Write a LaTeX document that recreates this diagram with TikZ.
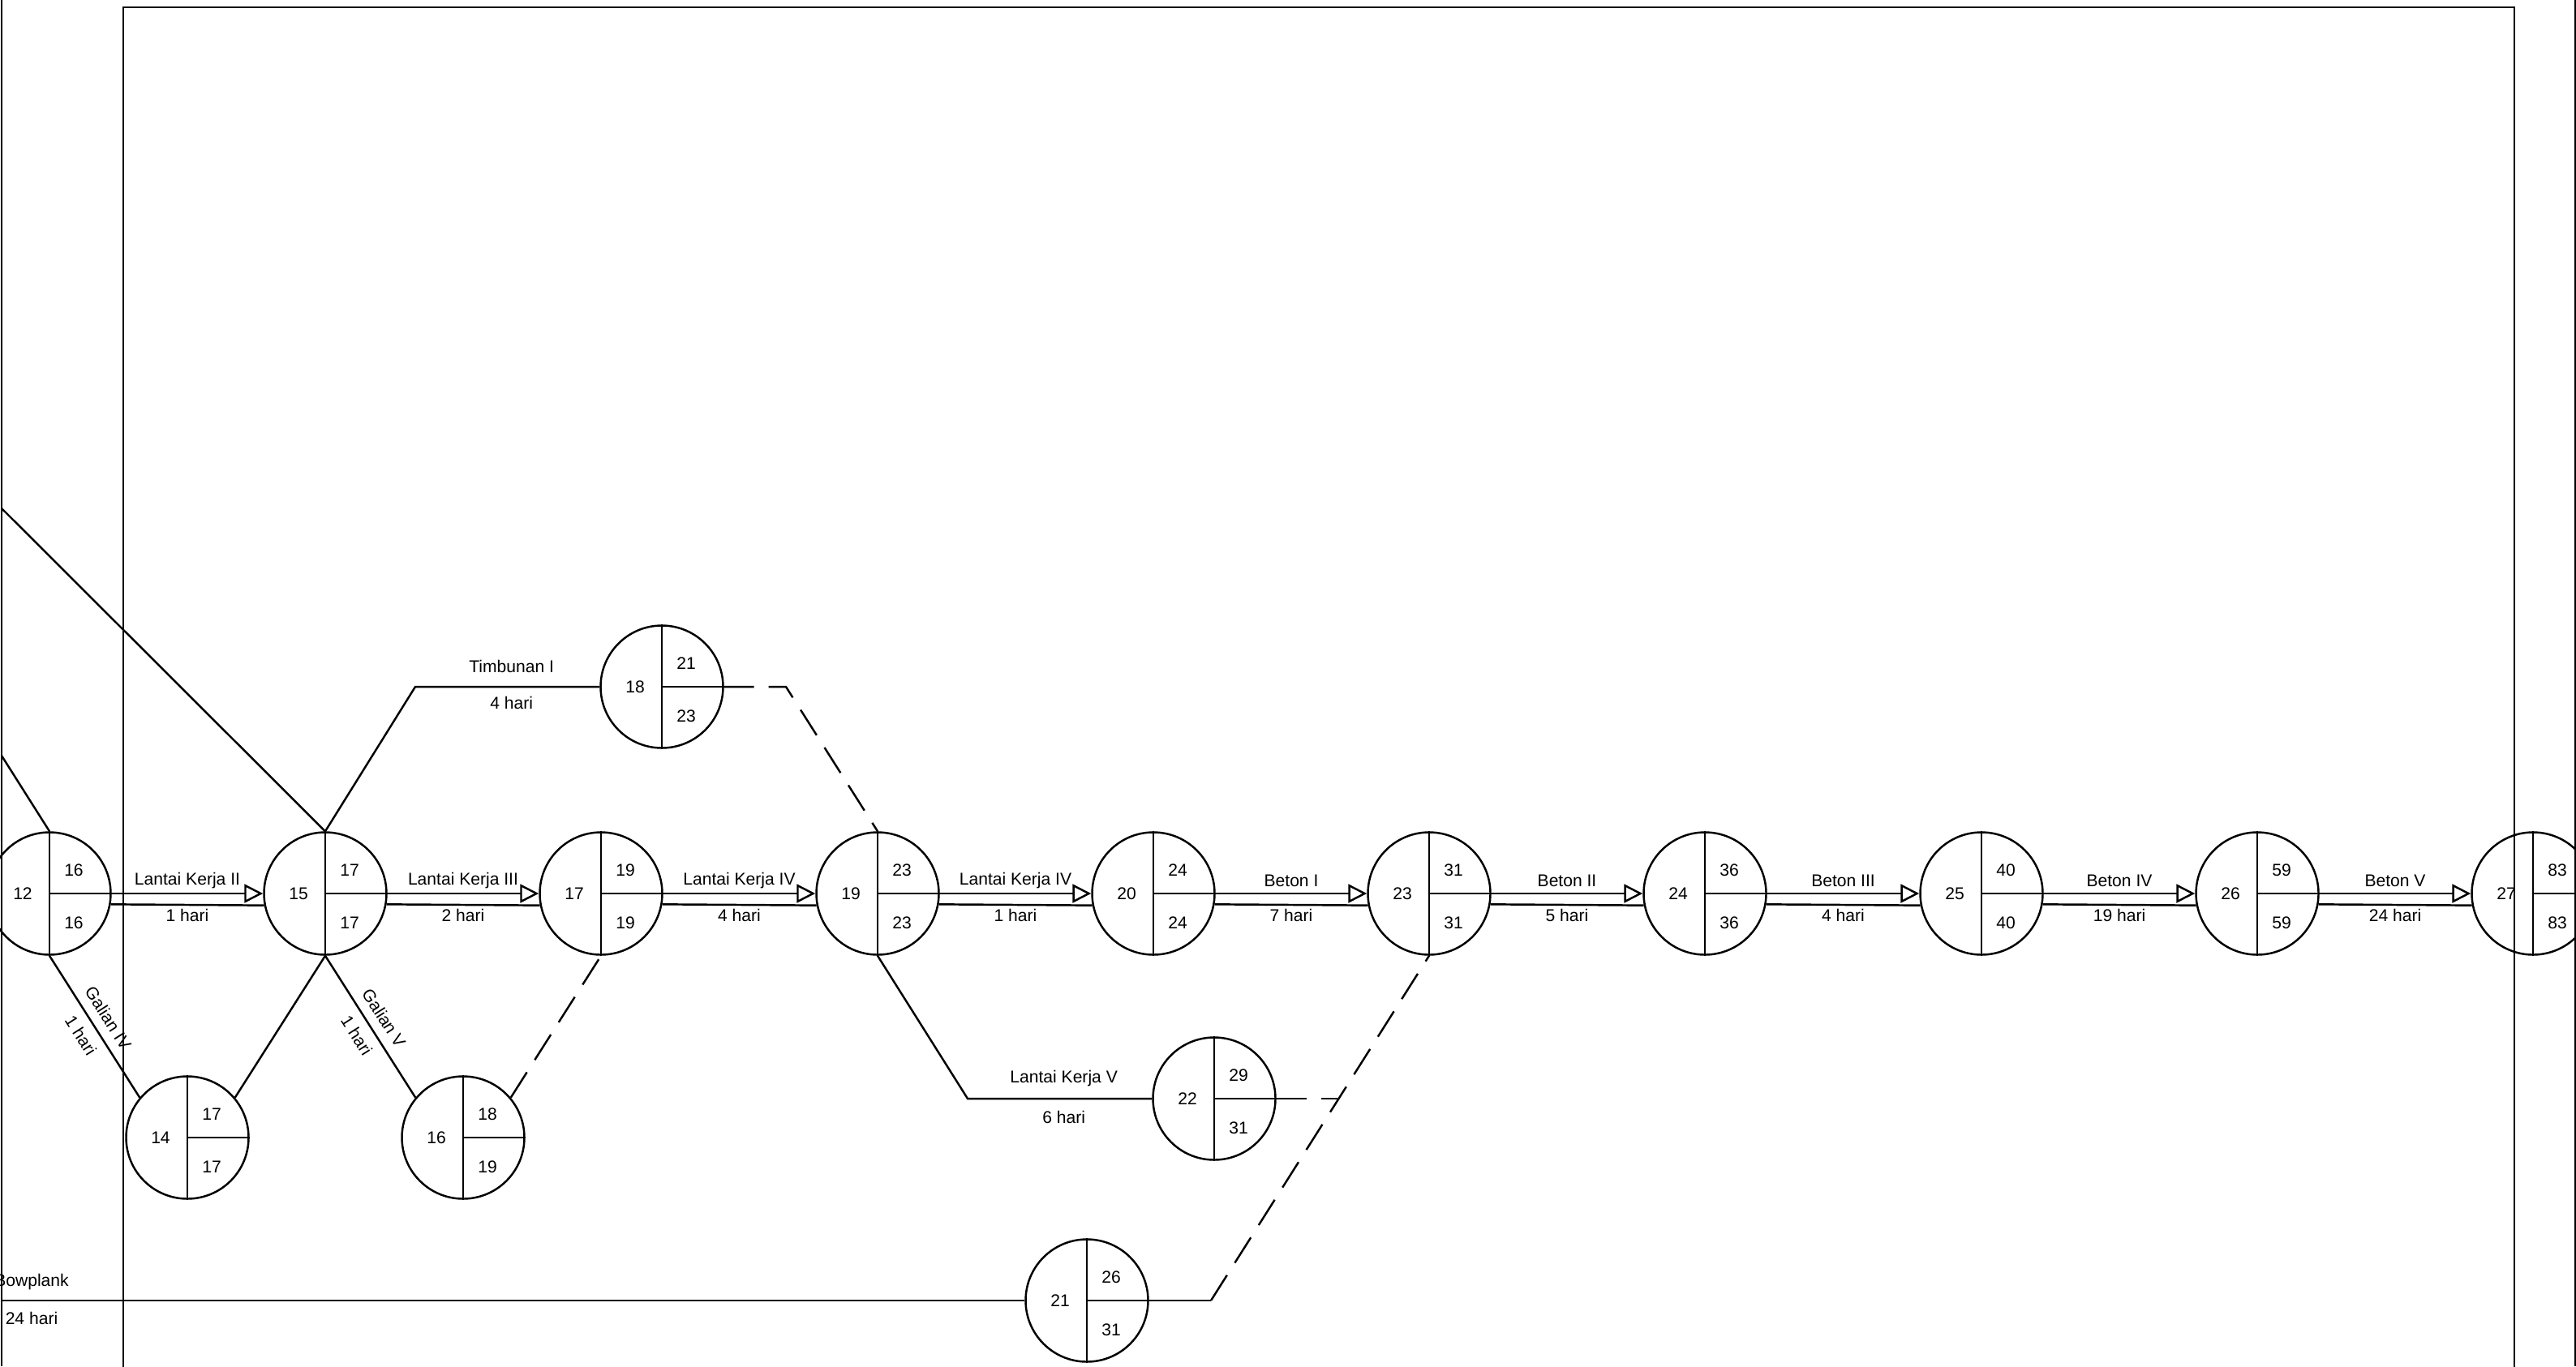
\documentclass[tikz,border=0pt]{standalone}
\usepackage{fontspec}
\setmainfont{Liberation Sans}
\usetikzlibrary{arrows.meta, calc, positioning}

% simpul: nama, posisi, nomor, atas, bawah
\newcommand{\simpul}[5]{%
    \node[simpulbox] (#1) at (#2) {};
    \draw[garis] (#1.north) -- (#1.south) (#1.center) -- (#1.east);
    \node[teks] (#1-n) at ($(#1.center)+(-0.33,0)$) {#3};
    \node[teks] (#1-a) at ($(#1.center)+(0.30,0.29)$) {#4};
    \node[teks] (#1-b) at ($(#1.center)+(0.30,-0.36)$) {#5};
}
% lintasan kritis: dari, ke, kegiatan, durasi
\newcommand{\kritis}[4]{%
    \draw[garis, -{Triangle[open, length=2.3mm, width=2.3mm]}] (#1.east) -- (#2.west);
    \draw[garis] (#1.-10.7) -- (#2.-169.3);
    \node[teks] (#1-#2-k) at ($(#1.east)!0.5!(#2.west)+(0,0.16)$) {#3};
    \node[teks] (#1-#2-d) at ($(#1.east)!0.5!(#2.west)+(0,-0.27)$) {#4};
}

\begin{document}
\begin{tikzpicture}
        [garis/.style={line width=0.7pt},
         putus/.style={garis, dash pattern=on 3.7mm off 1.8mm},
         simpulbox/.style={circle, draw, line width=0.7pt, minimum size=15.1mm, inner sep=0pt},
         teks/.style={font=\fontsize{6}{7}\selectfont, inner sep=0pt}]
        \useasboundingbox (0,0) rectangle (31.76,-16.85);
        %bingkai
            \draw[garis] (0.02,0) -- (0.02,-16.85);
            \draw[garis] (31.75,0) -- (31.75,-16.85);
            \draw[garis] (1.52,-17.2) -- (1.52,-0.09) -- (31.00,-0.09) -- (31.00,-17.2);
        %simpul baris utama
            \simpul{n12}{0.61,-11.02}{12}{16}{16}
            \simpul{n15}{4.01,-11.02}{15}{17}{17}
            \simpul{n17}{7.41,-11.02}{17}{19}{19}
            \simpul{n19}{10.82,-11.02}{19}{23}{23}
            \simpul{n20}{14.22,-11.02}{20}{24}{24}
            \simpul{n23}{17.62,-11.02}{23}{31}{31}
            \simpul{n24}{21.02,-11.02}{24}{36}{36}
            \simpul{n25}{24.43,-11.02}{25}{40}{40}
            \simpul{n26}{27.83,-11.02}{26}{59}{59}
            \simpul{n27}{31.23,-11.02}{27}{83}{83}
        %simpul lain
            \simpul{n14}{2.31,-14.03}{14}{17}{17}
            \simpul{n16}{5.71,-14.03}{16}{18}{19}
            \simpul{n18}{8.16,-8.47}{18}{21}{23}
            \simpul{n22}{14.97,-13.55}{22}{29}{31}
            \simpul{n21}{13.40,-16.04}{21}{26}{31}
        %titik bantu
            \coordinate (kiri1) at (0.02,-6.27);
            \coordinate (kiri2) at (0.02,-9.32);
            \coordinate (kiri3) at (0.02,-16.04);
            \coordinate (b15) at (5.12,-8.47);
            \coordinate (b18) at (9.69,-8.47);
            \coordinate (b19) at (11.93,-13.55);
            \coordinate (b22) at (16.49,-13.55);
            \coordinate (b21) at (14.93,-16.04);
        %lintasan kritis
            \kritis{n12}{n15}{Lantai Kerja II}{1 hari}
            \kritis{n15}{n17}{Lantai Kerja III}{2 hari}
            \kritis{n17}{n19}{Lantai Kerja IV}{4 hari}
            \kritis{n19}{n20}{Lantai Kerja IV}{1 hari}
            \kritis{n20}{n23}{Beton I}{7 hari}
            \kritis{n23}{n24}{Beton II}{5 hari}
            \kritis{n24}{n25}{Beton III}{4 hari}
            \kritis{n25}{n26}{Beton IV}{19 hari}
            \kritis{n26}{n27}{Beton V}{24 hari}
        %kegiatan lain
            \draw[garis] (kiri1) -- (n15.north);
            \draw[garis] (kiri2) -- (n12.north);
            \draw[garis] (n12.south) -- node[teks, sloped, above=1.1mm] (g4) {Galian IV}
                node[teks, sloped, below=1.1mm] (g4d) {1 hari} (n14.140);
            \draw[garis] (n14.40) -- (n15.south);
            \draw[garis] (n15.south) -- node[teks, sloped, above=1.1mm] (g5) {Galian V}
                node[teks, sloped, below=1.1mm] (g5d) {1 hari} (n16.140);
            \draw[garis] (n15.north) -- (b15) -- (n18.west);
            \node[teks] (tb) at ($(b15)!0.5!(n18.west)+(0.05,0.25)$) {Timbunan I};
            \node[teks] (tbd) at ($(b15)!0.5!(n18.west)+(0.05,-0.20)$) {4 hari};
            \draw[garis] (n19.south) -- (b19) -- (n22.west);
            \node[teks] (lk5) at ($(b19)!0.5!(n22.west)+(0.05,0.25)$) {Lantai Kerja V};
            \node[teks] (lk5d) at ($(b19)!0.5!(n22.west)+(0.05,-0.23)$) {6 hari};
            \draw[garis] (kiri3) -- (n21.west);
            \node[teks] (bp) at (0.39,-15.81) {Bowplank};
            \node[teks] (bpd) at (0.39,-16.26) {24 hari};
        %kegiatan semu
            \draw[putus] (n18.east) -- (b18) -- (n19.north);
            \draw[putus] (n16.40) -- (n17.south);
            \draw[putus] (n22.east) -- (b22);
            \draw[garis] (n21.east) -- (b21);
            \draw[putus] (b21) -- (n23.south);
\end{tikzpicture}
\end{document}
